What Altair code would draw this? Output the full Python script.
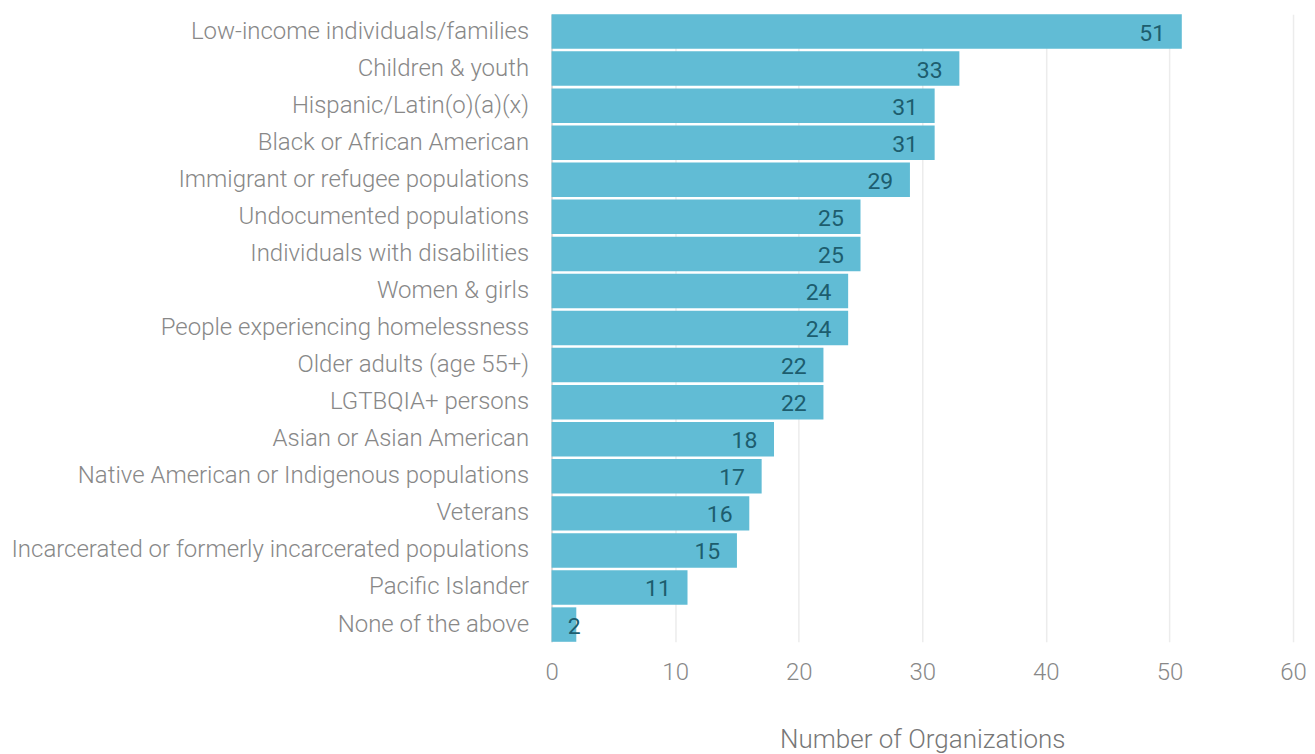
import altair as alt
import pandas as pd

categories = [
    "Low-income individuals/families",
    "Children & youth",
    "Hispanic/Latin(o)(a)(x)",
    "Black or African American",
    "Immigrant or refugee populations",
    "Undocumented populations",
    "Individuals with disabilities",
    "Women & girls",
    "People experiencing homelessness",
    "Older adults (age 55+)",
    "LGTBQIA+ persons",
    "Asian or Asian American",
    "Native American or Indigenous populations",
    "Veterans",
    "Incarcerated or formerly incarcerated populations",
    "Pacific Islander",
    "None of the above",
]
values = [51, 33, 31, 31, 29, 25, 25, 24, 24, 22, 22, 18, 17, 16, 15, 11, 2]

df = pd.DataFrame({"category": categories, "value": values})

FONT = "Roboto Light, Roboto"

base = alt.Chart(df)

y_enc = alt.Y(
    "category:N",
    sort=categories,
    title=None,
    scale=alt.Scale(paddingInner=0.07, paddingOuter=0.0),
    axis=alt.Axis(
        labelFont=FONT,
        labelFontWeight=300,
        labelFontSize=24,
        labelColor="#888888",
        labelPadding=23,
        labelLimit=800,
        ticks=False,
        domain=True,
        domainColor="#dcdcdc",
        domainWidth=2,
        grid=False,
    ),
)

bars = base.mark_bar(color="#61bcd5").encode(
    x=alt.X(
        "value:Q",
        title="Number of Organizations",
        scale=alt.Scale(domain=[0, 60], nice=False),
        axis=alt.Axis(
            values=[0, 10, 20, 30, 40, 50, 60],
            labelFont=FONT,
            labelFontWeight=300,
            labelFontSize=24,
            labelColor="#888888",
            labelPadding=19,
            labelFlush=False,
            ticks=False,
            domain=False,
            grid=True,
            gridColor="#ececec",
            gridWidth=1.5,
            titleFont=FONT,
            titleFontWeight=300,
            titleFontSize=26,
            titleColor="#777777",
            titlePadding=42,
        ),
    ),
    y=y_enc,
)

text = base.transform_calculate(
    pos="max(datum.value - 1.35, 2.35)"
).mark_text(
    align="right",
    baseline="middle",
    font="Roboto",
    fontSize=23,
    fontWeight=400,
    color="#1d5d6e",
    dy=2,
).encode(
    x=alt.X("pos:Q"),
    y=alt.Y("category:N", sort=categories),
    text=alt.Text("value:Q"),
)

chart = (
    alt.layer(bars, text)
    .properties(
        width=742,
        height=628,
        background="white",
        padding={"left": 2, "top": 5, "right": 0, "bottom": 0},
    )
    .configure_view(stroke=None, strokeWidth=0)
)

chart.save("out.html", embed_options={"renderer": "svg", "actions": False})
